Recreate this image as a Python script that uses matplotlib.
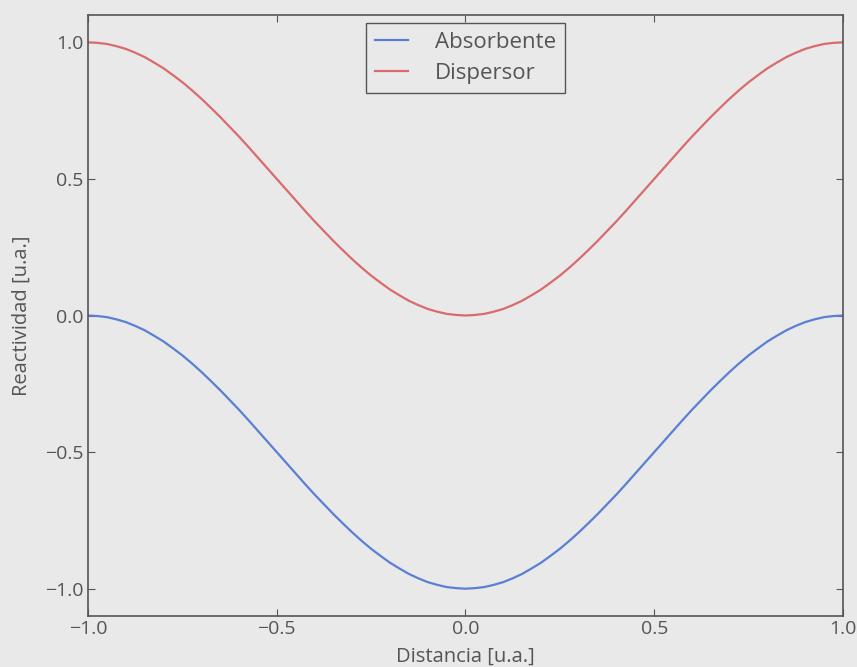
import matplotlib
matplotlib.use("Agg")
import matplotlib.pyplot as plt

# values, x step 0.025
distancia = [-1.0, -0.975, -0.95, -0.925, -0.9, -0.875, -0.85, -0.825, -0.8, -0.775,
             -0.75, -0.725, -0.7, -0.675, -0.65, -0.625, -0.6, -0.575, -0.55, -0.525,
             -0.5, -0.475, -0.45, -0.425, -0.4, -0.375, -0.35, -0.325, -0.3, -0.275,
             -0.25, -0.225, -0.2, -0.175, -0.15, -0.125, -0.1, -0.075, -0.05, -0.025,
             0.0, 0.025, 0.05, 0.075, 0.1, 0.125, 0.15, 0.175, 0.2, 0.225,
             0.25, 0.275, 0.3, 0.325, 0.35, 0.375, 0.4, 0.425, 0.45, 0.475,
             0.5, 0.525, 0.55, 0.575, 0.6, 0.625, 0.65, 0.675, 0.7, 0.725,
             0.75, 0.775, 0.8, 0.825, 0.85, 0.875, 0.9, 0.925, 0.95, 0.975, 1.0]
dispersor = [1.0, 0.998, 0.994, 0.986, 0.976, 0.962, 0.946, 0.926, 0.905, 0.880,
             0.854, 0.825, 0.794, 0.761, 0.727, 0.691, 0.655, 0.617, 0.578, 0.539,
             0.5, 0.461, 0.422, 0.383, 0.345, 0.309, 0.273, 0.239, 0.206, 0.175,
             0.146, 0.120, 0.095, 0.074, 0.054, 0.038, 0.024, 0.014, 0.006, 0.002,
             0.0, 0.002, 0.006, 0.014, 0.024, 0.038, 0.054, 0.074, 0.095, 0.120,
             0.146, 0.175, 0.206, 0.239, 0.273, 0.309, 0.345, 0.383, 0.422, 0.461,
             0.5, 0.539, 0.578, 0.617, 0.655, 0.691, 0.727, 0.761, 0.794, 0.825,
             0.854, 0.880, 0.905, 0.926, 0.946, 0.962, 0.976, 0.986, 0.994, 0.998, 1.0]
absorbente = [0.0, -0.002, -0.006, -0.014, -0.024, -0.038, -0.054, -0.074, -0.095, -0.120,
              -0.146, -0.175, -0.206, -0.239, -0.273, -0.309, -0.345, -0.383, -0.422, -0.461,
              -0.5, -0.539, -0.578, -0.617, -0.655, -0.691, -0.727, -0.761, -0.794, -0.825,
              -0.854, -0.880, -0.905, -0.926, -0.946, -0.962, -0.976, -0.986, -0.994, -0.998,
              -1.0, -0.998, -0.994, -0.986, -0.976, -0.962, -0.946, -0.926, -0.905, -0.880,
              -0.854, -0.825, -0.794, -0.761, -0.727, -0.691, -0.655, -0.617, -0.578, -0.539,
              -0.5, -0.461, -0.422, -0.383, -0.345, -0.309, -0.273, -0.239, -0.206, -0.175,
              -0.146, -0.120, -0.095, -0.074, -0.054, -0.038, -0.024, -0.014, -0.006, -0.002, 0.0]

x_ticks = [-1.0, -0.5, 0.0, 0.5, 1.0]
y_ticks = [-1.0, -0.5, 0.0, 0.5, 1.0]

bg = '#e9e9e9'
ink = '#555555'

plt.rcParams['font.family'] = ['Open Sans', 'DejaVu Sans']

fig = plt.figure(figsize=(8.57, 6.67), dpi=100, facecolor=bg)
ax = fig.add_axes([88 / 857, 1 - 616 / 667, (843 - 88) / 857, (616 - 15) / 667])
ax.set_facecolor(bg)

ax.plot(distancia, absorbente, color='#5b7fd2', lw=1.6, label='Absorbente')
ax.plot(distancia, dispersor, color='#d96b6e', lw=1.6, label='Dispersor')

ax.set_xlim(-1.0, 1.0)
ax.set_ylim(-1.1, 1.1)
ax.set_xticks(x_ticks)
ax.set_yticks(y_ticks)
ax.tick_params(direction='in', top=True, right=True, length=5, width=0.8,
               colors=ink, labelsize=14, pad=3)
for s in ax.spines.values():
    s.set_color('#555555')
    s.set_linewidth(1.2)

ax.set_xlabel('Distancia [u.a.]', color=ink, fontsize=14.5, labelpad=6.5)
ax.set_ylabel('Reactividad [u.a.]', color=ink, fontsize=14.5, labelpad=9.5)

leg = ax.legend(loc='upper center', fontsize=16, frameon=True, fancybox=False,
                borderpad=0.4, handlelength=1.5, handletextpad=1.2,
                labelspacing=0.45, borderaxespad=0,
                bbox_to_anchor=(0.5, 0.987))
leg.get_frame().set_edgecolor('#555555')
leg.get_frame().set_facecolor(bg)
leg.get_frame().set_alpha(1)
for t in leg.get_texts():
    t.set_color(ink)

fig.savefig('out.png', dpi=100, facecolor=bg)
